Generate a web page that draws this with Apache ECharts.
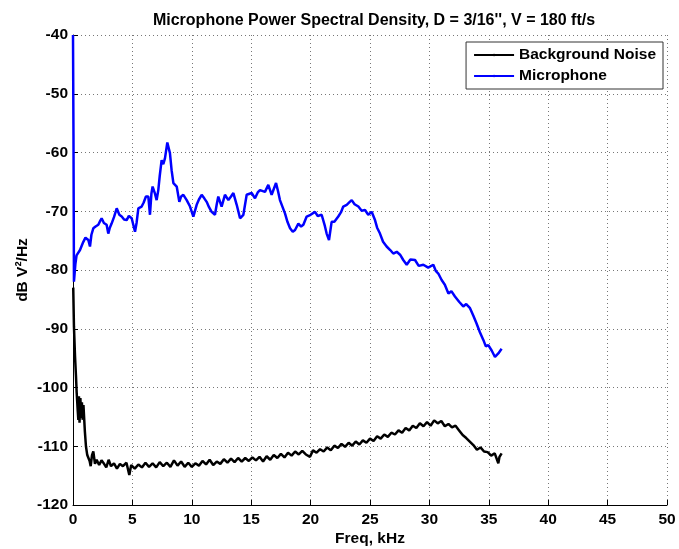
<!DOCTYPE html>
<html>
<head>
<meta charset="utf-8">
<script src="https://cdn.jsdelivr.net/npm/echarts@6/dist/echarts.min.js"></script>
<style>
  html, body { margin: 0; padding: 0; background: #fff; }
  #chart { width: 679px; height: 549px; }
</style>
</head>
<body>
<div id="chart"></div>
<script>
// values
var xTicks = [0, 5, 10, 15, 20, 25, 30, 35, 40, 45, 50];
var yTicks = [-120, -110, -100, -90, -80, -70, -60, -50, -40];

var noiseFreq = [0.02,0.08,0.17,0.25,0.31,0.4,0.45,0.5,0.55,0.62,0.7,0.75,0.81,0.88,0.93,1.0,1.09,1.2,1.29,1.4,1.49,1.6,1.71,1.85,1.99,2.2,2.4,2.55,2.8,3.0,3.2,3.45,3.7,3.95,4.2,4.5,4.74,4.9,5.2,5.5,5.8,6.1,6.4,6.7,7.0,7.3,7.6,7.9,8.2,8.5,8.8,9.1,9.4,9.7,10.0,10.3,10.6,10.9,11.2,11.5,11.8,12.1,12.4,12.7,13.0,13.3,13.6,13.9,14.2,14.5,14.8,15.1,15.4,15.7,16.0,16.3,16.6,16.9,17.2,17.5,17.8,18.1,18.4,18.7,19.0,19.3,19.6,19.95,20.2,20.5,20.8,21.1,21.4,21.7,22.0,22.3,22.6,22.9,23.2,23.5,23.8,24.1,24.4,24.7,25.0,25.3,25.6,25.9,26.2,26.5,26.8,27.1,27.4,27.7,28.0,28.3,28.6,28.9,29.2,29.5,29.8,30.1,30.4,30.7,31.0,31.3,31.6,31.9,32.2,32.5,32.8,33.1,33.4,33.7,34.0,34.3,34.6,34.9,35.2,35.5,35.8,35.9,36.08];
var noiseDb = [-83,-89.6,-94.7,-98,-100.9,-104,-105.5,-101.5,-106,-101.8,-105.2,-102.5,-105.5,-103,-104.9,-107.5,-110,-111.5,-111.2,-112.5,-113.4,-111.5,-110.9,-113,-112.3,-113.2,-112.4,-112.8,-113.6,-112.3,-113.4,-112.9,-113.8,-113,-113.4,-112.8,-114.9,-113.2,-113.8,-113.1,-113.6,-112.8,-113.5,-112.9,-113.6,-112.7,-113.4,-112.8,-113.5,-112.4,-113.3,-112.6,-113.5,-112.8,-113.5,-112.9,-113.3,-112.5,-113.1,-112.3,-113.2,-112.6,-113.0,-112.2,-112.8,-112.1,-112.7,-112.0,-112.6,-112.0,-112.5,-111.9,-112.4,-111.8,-112.6,-111.7,-112.3,-111.5,-112.0,-111.3,-111.9,-111.1,-111.6,-110.9,-111.4,-110.8,-111.4,-111.8,-110.7,-111.1,-110.5,-110.9,-110.2,-110.7,-109.9,-110.3,-109.6,-110.1,-109.4,-109.9,-109.2,-109.7,-109.0,-109.4,-108.7,-109.1,-108.3,-108.7,-108.0,-108.4,-107.7,-108.0,-107.3,-107.7,-106.9,-107.3,-106.5,-106.9,-106.1,-106.6,-105.9,-106.5,-105.6,-106.1,-105.7,-106.6,-106.2,-106.8,-106.5,-107.3,-108.1,-108.6,-109.2,-109.8,-110.6,-110.2,-110.9,-111.0,-111.6,-111.2,-112.9,-111.8,-111.2];

var micFreq = [0,0.04,0.08,0.2,0.3,0.45,0.59,0.75,0.87,1.05,1.29,1.43,1.55,1.71,1.9,2.13,2.3,2.41,2.6,2.83,2.97,3.1,3.25,3.45,3.68,3.9,4.1,4.3,4.52,4.7,4.94,5.1,5.22,5.35,5.5,5.78,5.95,6.14,6.34,6.48,6.6,6.7,6.9,7.04,7.18,7.3,7.46,7.6,7.74,7.94,8.16,8.3,8.45,8.6,8.73,8.95,9.1,9.29,9.57,9.85,10.13,10.41,10.6,10.83,11.05,11.25,11.45,11.67,11.95,12.1,12.23,12.51,12.79,13.08,13.3,13.5,13.78,14.06,14.34,14.62,15.04,15.32,15.55,15.74,16.16,16.44,16.72,17.09,17.25,17.42,17.85,18.05,18.27,18.5,18.69,18.97,19.2,19.39,19.67,20.0,20.37,20.6,20.93,21.2,21.35,21.55,21.77,22.0,22.33,22.55,22.75,23.04,23.25,23.46,23.7,24.02,24.3,24.58,24.85,25.14,25.42,25.6,25.84,26.1,26.4,26.7,26.96,27.25,27.53,27.8,28.09,28.4,28.79,29.1,29.49,29.9,30.33,30.55,30.75,31.03,31.3,31.6,31.85,32.15,32.5,32.85,33.1,33.42,33.7,33.97,34.25,34.54,34.75,34.96,35.24,35.52,35.8,36.08];
var micDb = [-40,-57,-82,-79,-77.5,-77.2,-76.6,-75.8,-75.2,-74.5,-74.9,-76.0,-74,-72.9,-72.6,-72.3,-71.6,-71.2,-72,-72.3,-73.8,-72.8,-72.1,-71,-69.5,-70.6,-70.9,-71.4,-71.5,-70.8,-71.2,-72.5,-73.5,-72,-69.5,-69.2,-68.5,-67.5,-67.5,-70.6,-67,-65.8,-67,-68.1,-66.4,-64,-61.3,-62,-61.0,-58.3,-60.1,-63,-65.2,-65,-65.8,-68.4,-67.5,-67.2,-68.1,-69.2,-70.9,-68.9,-68,-67.2,-67.8,-68.4,-69.3,-70.1,-70.6,-68.8,-67.5,-69.2,-67.2,-68.1,-67.5,-66.9,-68.9,-71.2,-70.6,-67.2,-66.9,-67.8,-66.8,-66.4,-66.7,-65.5,-67.2,-65.2,-66.5,-68.1,-70.4,-71.8,-72.9,-73.5,-73.2,-72.1,-72.6,-72.3,-70.9,-70.6,-70.1,-70.8,-70.6,-72.5,-73.8,-74.9,-71.8,-71.8,-70.9,-70.2,-69.2,-68.9,-68.5,-68.1,-68.8,-69.2,-69.9,-69.8,-70.6,-70.1,-71.5,-72.8,-73.8,-75.2,-76.0,-76.6,-77.2,-76.9,-77.4,-78.3,-79.1,-78.2,-78.3,-79.3,-79.1,-79.6,-79.1,-80.2,-80.6,-81.7,-82.5,-84.0,-83.6,-84.5,-85.4,-86.2,-85.8,-86.5,-87.8,-89.1,-90.6,-91.9,-93.0,-92.8,-93.7,-94.8,-94.2,-93.4];

function pairs(xs, ys) {
    var out = [];
    for (var i = 0; i < xs.length; i++) out.push([xs[i], ys[i]]);
    return out;
}

var font = '"Liberation Sans", Arial, sans-serif';
var txt = { fontFamily: font, fontSize: 15.5, fontWeight: 'bold', color: '#000' };
var myChart = echarts.init(document.getElementById('chart'));

var option = {
    animation: false,
    backgroundColor: '#fff',
    title: {
        text: "Microphone Power Spectral Density, D = 3/16'', V = 180 ft/s",
        left: 369,
        top: 8,
        textAlign: 'center',
        textStyle: { fontFamily: font, fontSize: 16, fontWeight: 'bold', color: '#000' }
    },
    legend: {
        orient: 'vertical',
        right: 16,
        top: 42,
        padding: [5, 7, 5, 7],
        itemWidth: 40,
        itemHeight: 3,
        itemGap: 5,
        borderColor: '#333',
        borderWidth: 1,
        backgroundColor: '#fff',
        textStyle: txt,
        data: ['Background Noise', 'Microphone']
    },
    grid: { left: 73, right: 12, top: 35, bottom: 44, outerBoundsMode: 'none' },
    xAxis: {
        type: 'value',
        min: xTicks[0],
        max: xTicks[xTicks.length - 1],
        interval: 5,
        name: 'Freq, kHz',
        nameLocation: 'middle',
        nameGap: 26,
        nameMoveOverlap: false,
        nameTextStyle: txt,
        axisLine: { lineStyle: { color: '#000', width: 1 } },
        axisTick: { inside: true, length: 5, lineStyle: { color: '#000' } },
        axisLabel: Object.assign({ margin: 7 }, txt),
        splitLine: { show: true, lineStyle: { color: '#777', type: [1, 3], width: 1 } }
    },
    yAxis: {
        type: 'value',
        min: yTicks[0],
        max: yTicks[yTicks.length - 1],
        interval: 10,
        name: 'dB V\u00b2/Hz',
        nameLocation: 'middle',
        nameGap: 42,
        nameMoveOverlap: false,
        nameTextStyle: txt,
        axisLine: { show: true, lineStyle: { color: '#000', width: 1 } },
        axisTick: { show: true, inside: true, length: 5, lineStyle: { color: '#000' } },
        axisLabel: Object.assign({ margin: 5 }, txt),
        splitLine: { show: true, lineStyle: { color: '#777', type: [1, 3], width: 1 } }
    },
    series: [
        {
            name: 'Background Noise',
            type: 'line',
            data: pairs(noiseFreq, noiseDb),
            symbol: 'none',
            lineStyle: { color: '#000', width: 2.5 },
            itemStyle: { color: '#000' }
        },
        {
            name: 'Microphone',
            type: 'line',
            data: pairs(micFreq, micDb),
            symbol: 'none',
            lineStyle: { color: '#0000ff', width: 2.5 },
            itemStyle: { color: '#0000ff' }
        }
    ]
};

myChart.setOption(option);
</script>
</body>
</html>
